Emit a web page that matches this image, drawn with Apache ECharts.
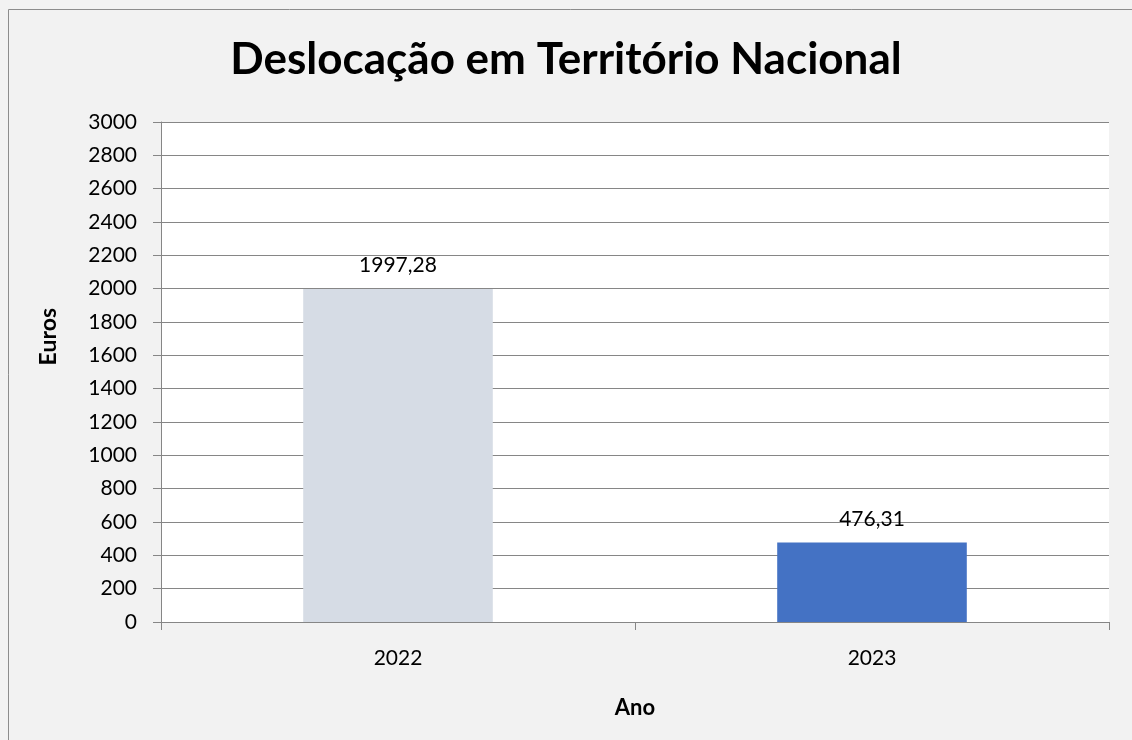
<!DOCTYPE html>
<html>
<head>
<meta charset="utf-8">
<script src="https://cdn.jsdelivr.net/npm/echarts@6/dist/echarts.min.js"></script>
<style>
  html, body { margin: 0; padding: 0; background: #f2f2f2; overflow: hidden; }
  #main { width: 1132px; height: 740px; }
</style>
</head>
<body>
<div id="main"></div>
<script>
var anos = ['2022', '2023'];
var euros = [1997.28, 476.31];
var corBarras = ['#d6dce5', '#4472c4'];

var myChart = echarts.init(document.getElementById('main'));

var option = {
    backgroundColor: '#f2f2f2',
    textStyle: { fontFamily: 'Lato' },
    graphic: [
        // moldura: so topo e esquerda ficam visiveis
        { type: 'polyline', shape: { points: [[8.5, 740], [8.5, 9.5], [1132, 9.5]] },
          style: { stroke: '#8c8c8c', lineWidth: 1, fill: 'none' }, silent: true },
        { type: 'text', left: 37, top: 308, rotation: Math.PI / 2,
          style: { text: 'Euros', fontSize: 23, fontWeight: 'bold', fill: '#000', fontFamily: 'Lato' } }
    ],
    title: {
        text: 'Deslocação em Território Nacional',
        left: 'center',
        top: 33,
        textStyle: { fontSize: 44, fontWeight: 'bold', color: '#000', fontFamily: 'Lato' }
    },
    grid: {
        left: 161, right: 23, top: 122, bottom: 118,
        show: true, backgroundColor: '#fff', borderWidth: 0
    },
    xAxis: {
        type: 'category',
        data: anos,
        name: 'Ano',
        nameLocation: 'middle',
        nameGap: 75,
        nameTextStyle: { fontSize: 22, fontWeight: 'bold', color: '#000' },
        axisLine: { lineStyle: { color: '#868686', width: 1 } },
        axisTick: { show: true, length: 8, lineStyle: { color: '#868686' } },
        axisLabel: { fontSize: 21, color: '#000', margin: 26 }
    },
    yAxis: {
        type: 'value',
        min: 0, max: 3000, interval: 200,
        axisLine: { show: true, lineStyle: { color: '#868686', width: 1 } },
        axisTick: { show: true, length: 8, lineStyle: { color: '#868686' } },
        axisLabel: { fontSize: 21, color: '#000', margin: 24, formatter: function (v) { return String(v); } },
        splitLine: { lineStyle: { color: '#868686', width: 1 } }
    },
    series: [{
        type: 'bar',
        barWidth: '40%',
        data: euros.map(function (v, i) {
            return { value: v, itemStyle: { color: corBarras[i] } };
        }),
        label: {
            show: true,
            position: 'top',
            distance: 13,
            fontSize: 21,
            color: '#000',
            formatter: function (p) { return p.value.toFixed(2).replace('.', ','); }
        }
    }]
};

myChart.setOption(option);
</script>
</body>
</html>
